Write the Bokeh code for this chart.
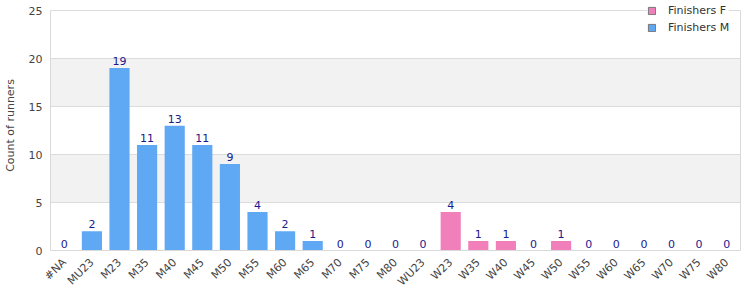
import math
from bokeh.plotting import figure
from bokeh.models import (ColumnDataSource, Legend, LegendItem, LabelSet, BoxAnnotation,
                          LinearAxis, FixedTicker)
from bokeh.core.properties import value
from bokeh.embed import file_html
from bokeh.resources import INLINE

categories = ["#NA", "MU23", "M23", "M35", "M40", "M45", "M50", "M55", "M60", "M65",
              "M70", "M75", "M80", "WU23", "W23", "W35", "W40", "W45", "W50", "W55",
              "W60", "W65", "W70", "W75", "W80"]
finishers_m = [0, 2, 19, 11, 13, 11, 9, 4, 2, 1, 0, 0, 0, 0, 0, 0, 0, 0, 0, 0, 0, 0, 0, 0, 0]
finishers_f = [0, 0, 0, 0, 0, 0, 0, 0, 0, 0, 0, 0, 0, 0, 4, 1, 1, 0, 1, 0, 0, 0, 0, 0, 0]
y_ticks = [0, 5, 10, 15, 20, 25]

FONT = "DejaVu Sans"
PINK = "#f17fb9"
BLUE = "#5fa8f4"
BORDER = "#d9d9d9"
totals = [m + f for m, f in zip(finishers_m, finishers_f)]
src = ColumnDataSource(dict(cat=categories, m=finishers_m, f=finishers_f,
                            total=totals, lbl=[str(t) for t in totals]))

# frame spans the full top so the legend can sit above the value-25 line
Y_MAX = y_ticks[-1]
y_end = Y_MAX * 250 / 240

p = figure(x_range=categories, y_range=(0, y_end), width=750, height=300,
           output_backend="svg", toolbar_location=None,
           min_border_left=50, min_border_right=10, min_border_top=0, min_border_bottom=50)

p.outline_line_color = None
p.xgrid.grid_line_color = None
p.ygrid.grid_line_color = "#dcdcdc"
p.ygrid.band_fill_color = None
p.x_range.range_padding = 0.0

# alternating grey bands (5-10, 15-20)
for lo, hi in zip(y_ticks[1::2], y_ticks[2::2]):
    p.add_layout(BoxAnnotation(bottom=lo, top=hi, fill_color="#f2f2f2", fill_alpha=1.0,
                               line_color=None, level="image"))

p.vbar(x="cat", top="f", width=0.73, source=src, fill_color=PINK, line_color=None)
p.vbar(x="cat", top="m", width=0.73, source=src, fill_color=BLUE, line_color=None)

# legend swatch proxies, placed below the visible range so they draw nothing
proxy = ColumnDataSource(dict(x=[categories[0]], t=[-2], b=[-3]))
lf = p.vbar(x="x", top="t", bottom="b", width=0.5, source=proxy,
            fill_color=PINK, line_color="#777777")
lm = p.vbar(x="x", top="t", bottom="b", width=0.5, source=proxy,
            fill_color=BLUE, line_color="#777777")

labels = LabelSet(x="cat", y="total", text="lbl", source=src, text_align="center",
                  text_baseline="bottom", y_offset=3, text_font_size="11px",
                  text_color="#1a1a8c", text_font=value(FONT))
p.add_layout(labels)

p.yaxis.ticker = y_ticks
p.yaxis.bounds = (0, Y_MAX)
p.yaxis.axis_label = "Count of runners"
p.yaxis.axis_label_text_font = FONT
p.yaxis.axis_label_text_font_size = "11px"
p.yaxis.axis_label_text_font_style = "normal"
p.yaxis.axis_label_text_color = "#444444"
p.yaxis.axis_label_standoff = 9

for ax in (p.xaxis[0], p.yaxis[0]):
    ax.major_tick_line_color = None
    ax.minor_tick_line_color = None
    ax.major_tick_out = 0
    ax.major_tick_in = 0
    ax.minor_tick_out = 0
    ax.axis_line_color = BORDER
    ax.major_label_text_font = FONT
    ax.major_label_text_font_size = "11px"
    ax.major_label_text_color = "#444444"
p.xaxis.major_label_orientation = math.pi / 4
p.xaxis.major_label_standoff = 10
p.yaxis.major_label_standoff = 8

# right border line
right = LinearAxis(ticker=FixedTicker(ticks=[]), bounds=(0, Y_MAX), axis_line_color=BORDER,
                   major_tick_line_color=None, minor_tick_line_color=None,
                   major_tick_out=0, minor_tick_out=0, major_label_text_font_size="0px")
p.add_layout(right, "right")

legend = Legend(items=[LegendItem(label="Finishers F", renderers=[lf]),
                       LegendItem(label="Finishers M", renderers=[lm])],
                location=(597, 216), border_line_color=None, background_fill_color="white",
                background_fill_alpha=1.0, label_text_font=FONT, label_text_font_size="11px",
                label_text_color="#333333", glyph_width=9, glyph_height=9,
                label_height=12, spacing=4, padding=3, margin=0, label_standoff=12)
p.add_layout(legend, "center")

open("out.html", "w").write(file_html(p, INLINE))
